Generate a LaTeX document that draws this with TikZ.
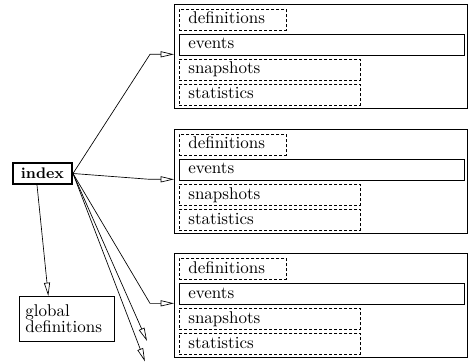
\documentclass[tikz,border=0pt]{standalone}
\usetikzlibrary{arrows.meta}

\tikzset{every node/.style={draw, inner sep=0pt, font=\fontsize{10.2}{10}\selectfont}}

\begin{document}
\begin{tikzpicture}[x=0.6pt, y=-0.6pt,
		filebox/.style={anchor=north west, minimum width=175.8pt, minimum height=62.4pt},
		rowbox/.style={anchor=north west, minimum height=12.6pt, inner xsep=5.4pt, align=left, text height=7pt, text depth=2pt},
		optbox/.style={rowbox, dash pattern=on 1.8pt off 1.2pt},
		arr/.style={-{Triangle[open, length=8pt, width=3.6pt]}}]
			\useasboundingbox (0,0) rectangle (470,362);
			
			\node[line width=1.2pt, minimum width=35.4pt, minimum height=12.6pt, font=\fontsize{9.2}{10}\selectfont\bfseries] (index) at (42.5,173.5) {index};
			\node[anchor=north west, text width=49.8pt, minimum height=27pt, inner xsep=3.6pt, align=left] (global) at (19,296) {global\\definitions};
			
			% first file
			\node[filebox] (B1) at (174,4) {};
			\node[optbox, text width=53.4pt] (def1) at (179,9) {definitions};
			\node[rowbox, text width=160.2pt] (ev1) at (179,34) {events};
			\node[optbox, text width=97.8pt] (snap1) at (179,59) {snapshots};
			\node[optbox, text width=97.8pt] (stat1) at (179,84) {statistics};
			
			% second file
			\node[filebox] (B2) at (174,129) {};
			\node[optbox, text width=53.4pt] (def2) at (179,134) {definitions};
			\node[rowbox, text width=160.2pt] (ev2) at (179,159) {events};
			\node[optbox, text width=97.8pt] (snap2) at (179,184) {snapshots};
			\node[optbox, text width=97.8pt] (stat2) at (179,209) {statistics};
			
			% third file
			\node[filebox] (B3) at (174,253) {};
			\node[optbox, text width=53.4pt] (def3) at (179,258) {definitions};
			\node[rowbox, text width=160.2pt] (ev3) at (179,283) {events};
			\node[optbox, text width=97.8pt] (snap3) at (179,308) {snapshots};
			\node[optbox, text width=97.8pt] (stat3) at (179,333) {statistics};
			
			\coordinate (end1) at (147,341);
			\coordinate (end2) at (145,361.5);
			
			\draw[arr] (index.east) -- ([shift={(-24,-2)}]B1.west) -- ++(24,0);
			\draw[arr] (index.east) -- ([shift={(-24,-2)}]B2.west) -- ++(24,0);
			\draw[arr] (index.east) -- ([shift={(-24,-2)}]B3.west) -- ++(24,0);
			\draw[arr] (index.east) -- (end1);
			\draw[arr] (index.east) -- (end2);
			\draw[arr] ([xshift=-3.3pt]index.south) -- ([xshift=-11.1pt]global.north);
			
		\end{tikzpicture}
\end{document}
